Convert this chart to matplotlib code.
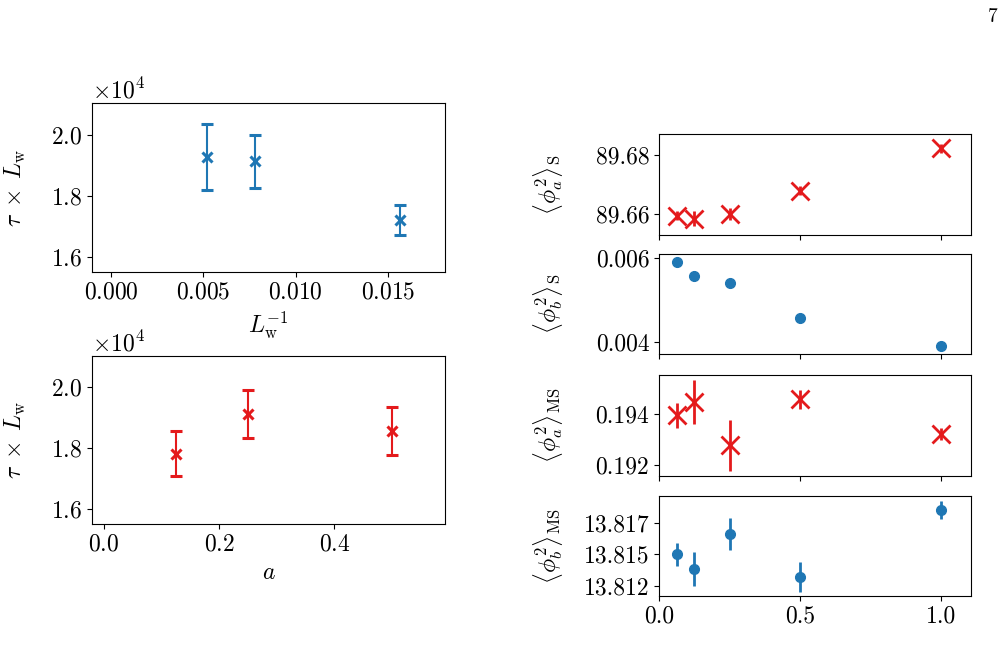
"""
Autocorrelation time and field moments vs lattice size / anisotropy a.
"""
import matplotlib
matplotlib.use('Agg')
import matplotlib.pyplot as plt
from matplotlib.ticker import FormatStrFormatter

plt.rcParams['font.family'] = 'serif'
plt.rcParams['font.serif'] = ['cmr10']
plt.rcParams['mathtext.fontset'] = 'cm'
plt.rcParams['axes.formatter.use_mathtext'] = True
plt.rcParams['axes.unicode_minus'] = False
plt.rcParams['font.size'] = 17

BLUE = '#1f77b4'
RED = '#e41a1c'

# tau * L_w vs 1/L_w
inv_Lw = [1 / 192, 1 / 128, 1 / 64]
tau_Lw = [1.927e4, 1.913e4, 1.723e4]
tau_Lw_err = [0.109e4, 0.087e4, 0.049e4]

# tau * L_w vs a
a_tau = [0.125, 0.25, 0.5]
tau_a = [1.782e4, 1.913e4, 1.857e4]
tau_a_err = [0.074e4, 0.079e4, 0.078e4]

# moments vs a
a_vals = [0.0625, 0.125, 0.25, 0.5, 1.0]
phia_S = [89.6596, 89.6585, 89.6602, 89.6679, 89.6821]
phia_S_err = [0.0015, 0.0025, 0.002, 0.0015, 0.0015]
phib_S = [0.005897, 0.005573, 0.005415, 0.004569, 0.003905]
phib_S_err = [0.00003, 0.00012, 0.00008, 0.00003, 0.00003]
phia_MS = [0.19395, 0.19447, 0.19277, 0.19458, 0.19322]
phia_MS_err = [0.00048, 0.00086, 0.0010, 0.00037, 0.00025]
phib_MS = [13.8150, 13.8138, 13.8166, 13.8132, 13.8185]
phib_MS_err = [0.0009, 0.00134, 0.00126, 0.00115, 0.00068]

W, H = 1008, 647
fig = plt.figure(figsize=(W / 100, H / 100), dpi=100)


def box(x0, y0, x1, y1):
    return [x0 / W, 1 - y1 / H, (x1 - x0) / W, (y1 - y0) / H]


# Left panels
ax1 = fig.add_axes(box(92, 103, 445, 272))
ax1.errorbar(inv_Lw, tau_Lw, yerr=tau_Lw_err, fmt='x', color=BLUE, ms=7, mew=2.2,
             elinewidth=1.5, capsize=4.5, capthick=1.3)
ax1.set_xlim(-0.00103, 0.01807)
ax1.set_ylim(1.552e4, 2.103e4)
ax1.set_yticks([1.6e4, 1.8e4, 2.0e4])
ax1.set_xticks([0.0, 0.005, 0.010, 0.015])
ax1.ticklabel_format(axis='y', style='sci', scilimits=(0, 0))
ax1.set_xlabel(r'$L_{\rm w}^{-1}$')
ax1.set_ylabel(r'$\tau\;\times\;L_{\rm w}$')

ax2 = fig.add_axes(box(92, 356, 445, 524))
ax2.errorbar(a_tau, tau_a, yerr=tau_a_err, fmt='x', color=RED, ms=7, mew=2.2,
             elinewidth=1.5, capsize=4.5, capthick=1.3)
ax2.set_xlim(-0.0209, 0.5925)
ax2.set_ylim(1.552e4, 2.103e4)
ax2.set_yticks([1.6e4, 1.8e4, 2.0e4])
ax2.set_xticks([0.0, 0.2, 0.4])
ax2.ticklabel_format(axis='y', style='sci', scilimits=(0, 0))
ax2.set_xlabel(r'$a$')
ax2.set_ylabel(r'$\tau\;\times\;L_{\rm w}$')

# Right stacked panels
rows = [(134, 235), (254, 354), (375, 476), (496, 596)]
axes_r = [fig.add_axes(box(659, y0, 971, y1)) for y0, y1 in rows]

ax = axes_r[0]
ax.errorbar(a_vals, phia_S, yerr=phia_S_err, fmt='x', color=RED, ms=13, mew=2, elinewidth=2)
ax.set_ylim(89.6531, 89.6869)
ax.set_yticks([89.66, 89.68])
ax.yaxis.set_major_formatter(FormatStrFormatter('%.2f'))
ax.set_ylabel(r'$\langle\phi_a^2\rangle_{\rm S}$')

ax = axes_r[1]
ax.errorbar(a_vals, phib_S, yerr=phib_S_err, fmt='o', color=BLUE, ms=7, elinewidth=2)
ax.set_ylim(0.003711, 0.006095)
ax.set_yticks([0.004, 0.006])
ax.yaxis.set_major_formatter(FormatStrFormatter('%.3f'))
ax.set_ylabel(r'$\langle\phi_b^2\rangle_{\rm S}$')

ax = axes_r[2]
ax.errorbar(a_vals, phia_MS, yerr=phia_MS_err, fmt='x', color=RED, ms=13, mew=2, elinewidth=2)
ax.set_ylim(0.19157, 0.19553)
ax.set_yticks([0.192, 0.194])
ax.yaxis.set_major_formatter(FormatStrFormatter('%.3f'))
ax.set_ylabel(r'$\langle\phi_a^2\rangle_{\rm MS}$')

ax = axes_r[3]
ax.errorbar(a_vals, phib_MS, yerr=phib_MS_err, fmt='o', color=BLUE, ms=7, elinewidth=2)
ax.set_ylim(13.8117, 13.8196)
ax.set_yticks([13.8125, 13.8150, 13.8175])
ax.set_yticklabels(['13.812', '13.815', '13.817'])
ax.set_ylabel(r'$\langle\phi_b^2\rangle_{\rm MS}$')
ax.set_xlabel(r'$a$', labelpad=14)

for ax in axes_r:
    ax.set_xlim(0, 1.105)
    ax.set_xticks([0.0, 0.5, 1.0])
    ax.yaxis.set_label_coords(-0.30, 0.5)
for ax in axes_r[:-1]:
    ax.tick_params(labelbottom=False)
axes_r[-1].xaxis.set_major_formatter(FormatStrFormatter('%.1f'))

ax1.yaxis.set_label_coords(-0.18, 0.5)
ax2.yaxis.set_label_coords(-0.18, 0.5)

fig.text(993 / W, 1 - 17 / H, '7', ha='center', va='center', fontsize=14)

fig.savefig('out.png', dpi=100)
